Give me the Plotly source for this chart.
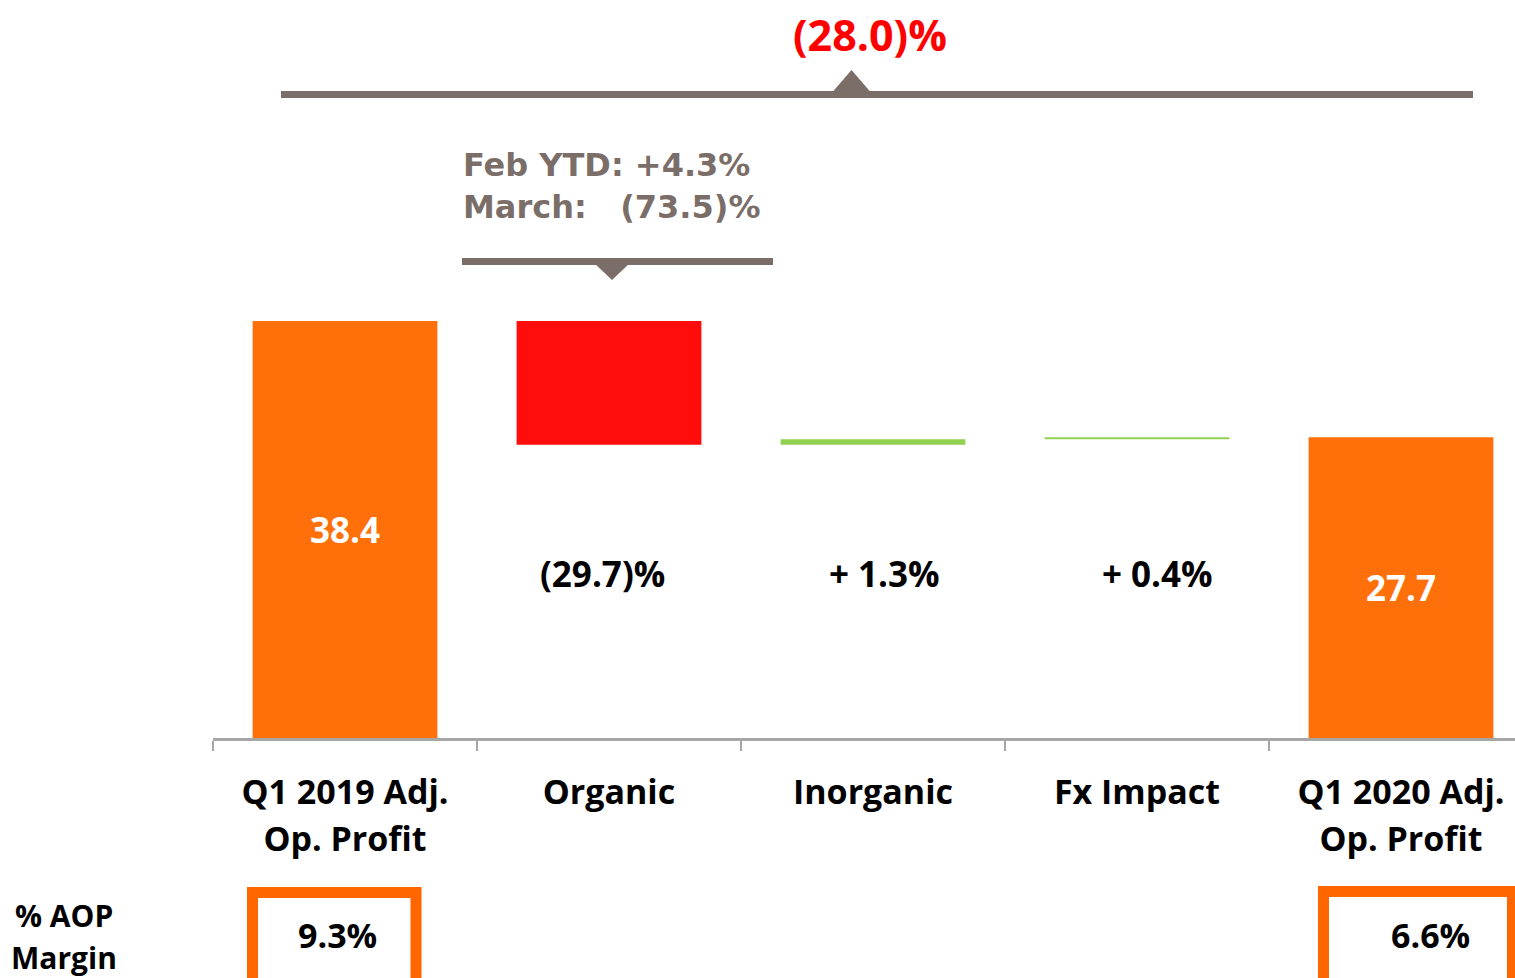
import plotly.graph_objects as go

# ---- data ----
categories = ["Q1 2019 Adj.", "Organic", "Inorganic", "Fx Impact", "Q1 2020 Adj."]
second_line = ["Op. Profit", "", "", "", "Op. Profit"]
measures = ["absolute", "relative", "relative", "relative", "total"]
values = [38.4, -11.4, 0.5, 0.2, 0]
bar_text = ["38.4", "", "", "", "27.7"]
change_labels = ["", "(29.7)%", "+ 1.3%", "+ 0.4%", ""]
margin_labels = ["9.3%", "", "", "", "6.6%"]
total_change = "(28.0)%"
organic_note = ["Feb YTD: +4.3%", "March:&nbsp;&nbsp;&nbsp;(73.5)%"]

# ---- geometry (reference pixel coords) ----
W, H = 1515, 978
L = 213
PLOT_W = W - L
BAND = 264.0
AX_Y = 738
PX_PER_UNIT = 10.86
PLOT_H = AX_Y

def px(x):
    return (x - L) / PLOT_W

def py(y):
    return (H - y) / H

def dy(y):
    return (AX_Y - y) / PX_PER_UNIT

FONT = "Open Sans"
GRAY = "#7B6E68"
ORANGE = "#FF700A"

fig = go.Figure()
fig.add_trace(go.Waterfall(
    x=categories, y=values, measure=measures,
    text=bar_text, textposition="inside", insidetextanchor="middle",
    textfont=dict(family=FONT, size=35, color="white", weight="bold"),
    width=0.7,
    totals=dict(marker=dict(color=ORANGE, line=dict(width=0))),
    decreasing=dict(marker=dict(color="#FF0D0D", line=dict(width=0))),
    increasing=dict(marker=dict(color="#92D050", line=dict(width=0))),
    connector=dict(visible=False),
    cliponaxis=False,
    showlegend=False,
    hoverinfo="skip",
))
# invisible helper trace so the second-line label axis is drawn
fig.add_trace(go.Scatter(x=[0, 4], y=[0, 0], xaxis="x2", yaxis="y", mode="markers",
                         marker=dict(opacity=0), showlegend=False, hoverinfo="skip"))

x_range = [-0.5, -0.5 + PLOT_W / BAND]
y_dom0 = (H - PLOT_H) / H

fig.update_layout(
    width=W, height=H,
    margin=dict(l=L, r=0, t=0, b=0, autoexpand=False),
    plot_bgcolor="white", paper_bgcolor="white",
    font=dict(family=FONT, color="black"),
    hovermode=False,
    xaxis=dict(
        type="category", categoryarray=categories, range=x_range,
        tickson="boundaries", ticks="outside", ticklen=10, tickwidth=2,
        tickcolor="#A6A6A6", showline=True, linecolor="#A6A6A6", linewidth=3,
        showgrid=False, zeroline=False,
        tickfont=dict(family=FONT, size=34, color="black", weight="bold"),
        ticklabelstandoff=22,
    ),
    xaxis2=dict(
        overlaying="x", anchor="free", position=y_dom0, side="bottom",
        range=x_range, type="linear", tickmode="array",
        tickvals=[i for i, t in enumerate(second_line) if t],
        ticktext=[t for t in second_line if t],
        ticks="", ticklen=0, showline=False, showgrid=False, zeroline=False,
        tickfont=dict(family=FONT, size=34, color="black", weight="bold"),
        ticklabelstandoff=78,
    ),
    yaxis=dict(domain=[y_dom0, 1], range=[0, PLOT_H / PX_PER_UNIT],
               visible=False, showgrid=False, zeroline=False),
)

def label(x, y, text, size, color="black", xanchor="center", family=FONT):
    return dict(x=x, y=y, xref="paper", yref="paper", text=text, showarrow=False,
                xanchor=xanchor, yanchor="middle",
                font=dict(family=family, size=size, color=color, weight="bold"))

ann = []
# change labels under bars
label_shift = [0, -6.5, 11.5, 20, 0]
for i, t in enumerate(change_labels):
    if t:
        ann.append(dict(x=categories[i], y=dy(573), xref="x", yref="y", text=t,
                        showarrow=False, xshift=label_shift[i], xanchor="center",
                        yanchor="middle",
                        font=dict(family=FONT, size=35, color="black", weight="bold")))
# total change
ann.append(label(px(870), py(35), total_change, 43, "#FF0000"))
# organic note
for t, yy in zip(organic_note, [165, 207]):
    ann.append(label(px(461), py(yy), t, 32, GRAY, xanchor="left", family="DejaVu Sans"))
# margin label
for t, yy in zip(["% AOP", "Margin"], [915, 957]):
    ann.append(label(px(64), py(yy), t, 30))
# margin values
for i, t in enumerate(margin_labels):
    if t:
        cx = 337 if i == 0 else 1430
        ann.append(label(px(cx), py(935), t, 34))
fig.update_layout(annotations=ann)

shapes = []
# top bracket
shapes.append(dict(type="line", xref="paper", yref="paper", x0=px(281), x1=px(1473),
                   y0=py(94.5), y1=py(94.5), line=dict(color=GRAY, width=7)))
shapes.append(dict(type="path", xref="paper", yref="paper",
                   path=f"M {px(832.5)} {py(92)} L {px(851.5)} {py(70)} L {px(870.5)} {py(92)} Z",
                   fillcolor=GRAY, line=dict(width=0)))
# organic bracket
shapes.append(dict(type="line", xref="paper", yref="paper", x0=px(462), x1=px(773),
                   y0=py(261.5), y1=py(261.5), line=dict(color=GRAY, width=7)))
shapes.append(dict(type="path", xref="paper", yref="paper",
                   path=f"M {px(593)} {py(262)} L {px(612)} {py(280)} L {px(631)} {py(262)} Z",
                   fillcolor=GRAY, line=dict(width=0)))
# margin boxes
shapes.append(dict(type="rect", xref="paper", yref="paper", x0=px(252.5), x1=px(416),
                   y0=py(892.5), y1=py(995), line=dict(color="#FF6600", width=11),
                   fillcolor="rgba(0,0,0,0)"))
shapes.append(dict(type="rect", xref="paper", yref="paper", x0=px(1323.5), x1=px(1512.5),
                   y0=py(891.5), y1=py(995), line=dict(color="#FF6600", width=11),
                   fillcolor="rgba(0,0,0,0)"))
fig.update_layout(shapes=shapes)

fig.write_html(
    "out.html",
    config={"displayModeBar": False, "staticPlot": True},
    post_script="document.body.style.margin='0';"
                "document.documentElement.style.overflow='hidden';"
                "document.body.style.overflow='hidden';",
)
